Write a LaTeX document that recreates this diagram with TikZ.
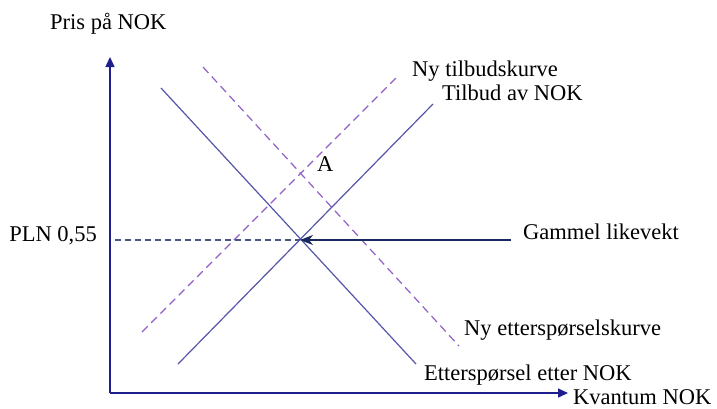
\documentclass[tikz,border=0pt]{standalone}
\usepackage{fontspec}
\setmainfont{Liberation Serif}
\usepackage{tikz}
\usetikzlibrary{positioning,calc,arrows.meta}
\definecolor{AxisBlue}{RGB}{30,30,140}
\definecolor{CurveBlue}{RGB}{85,85,170}
\definecolor{ShiftPurple}{RGB}{145,95,200}
\definecolor{GuideGray}{RGB}{70,85,130}
\definecolor{ArrowNavy}{RGB}{25,40,95}

\tikzset{
  lbl/.style={font=\fontsize{22.5}{26}\selectfont,anchor=base west,inner sep=0pt},
  axisline/.style={AxisBlue,line width=1.4pt,-{Triangle[length=10pt,width=9pt]}},
  curve/.style={CurveBlue,line width=1.2pt},
  shifted/.style={ShiftPurple,line width=1.2pt,dash pattern=on 8pt off 5pt},
  guide/.style={GuideGray,line width=1.1pt,dash pattern=on 6pt off 4pt}
}

\begin{document}
\begin{tikzpicture}[x=1pt,y=-1pt]
\useasboundingbox (0,0) rectangle (717,408);
% axes
\coordinate (origo) at (110,393);
\coordinate (ytop) at (110,57);
\coordinate (xend) at (568,393);
\draw[axisline] (origo) -- (ytop);
\draw[axisline] (origo) -- (xend);
\node[lbl] (pris) at (50,29) {Pris på NOK};
\node[lbl] (kvantum) at (573,404) {Kvantum NOK};
% curve end points
\coordinate (d1) at (161,88);
\coordinate (d2) at (416,364);
\coordinate (s1) at (178,364);
\coordinate (s2) at (433,104);
\coordinate (ns1) at (142,332);
\coordinate (ns2) at (399,75);
\coordinate (nd1) at (203,67);
\coordinate (nd2) at (459,346);
\coordinate (eq) at (300,240);
\coordinate (ylev) at (115,240);
\coordinate (pil) at (511,240);
% old and new curves
\draw[curve] (d1) -- (d2);
\draw[curve] (s1) -- (s2);
\draw[shifted] (ns1) -- (ns2);
\draw[shifted] (nd1) -- (nd2);
% old equilibrium
\draw[guide] (ylev) -- (eq);
\draw[ArrowNavy,line width=1.2pt,-{Stealth[length=13pt,width=10pt,inset=4pt]}] (pil) -- (eq);
% labels
\node[lbl,anchor=base east] (pln) at (97,241) {PLN 0,55};
\node[lbl] (gammel) at (523,239) {Gammel likevekt};
\node[lbl] (nytilbud) at (412,76) {Ny tilbudskurve};
\node[lbl] (tilbud) at (442,100) {Tilbud av NOK};
\node[lbl] (nyettersp) at (464,335) {Ny etterspørselskurve};
\node[lbl] (ettersp) at (424,380) {Etterspørsel etter NOK};
\node[lbl] (a) at (317,171) {A};
\end{tikzpicture}
\end{document}
